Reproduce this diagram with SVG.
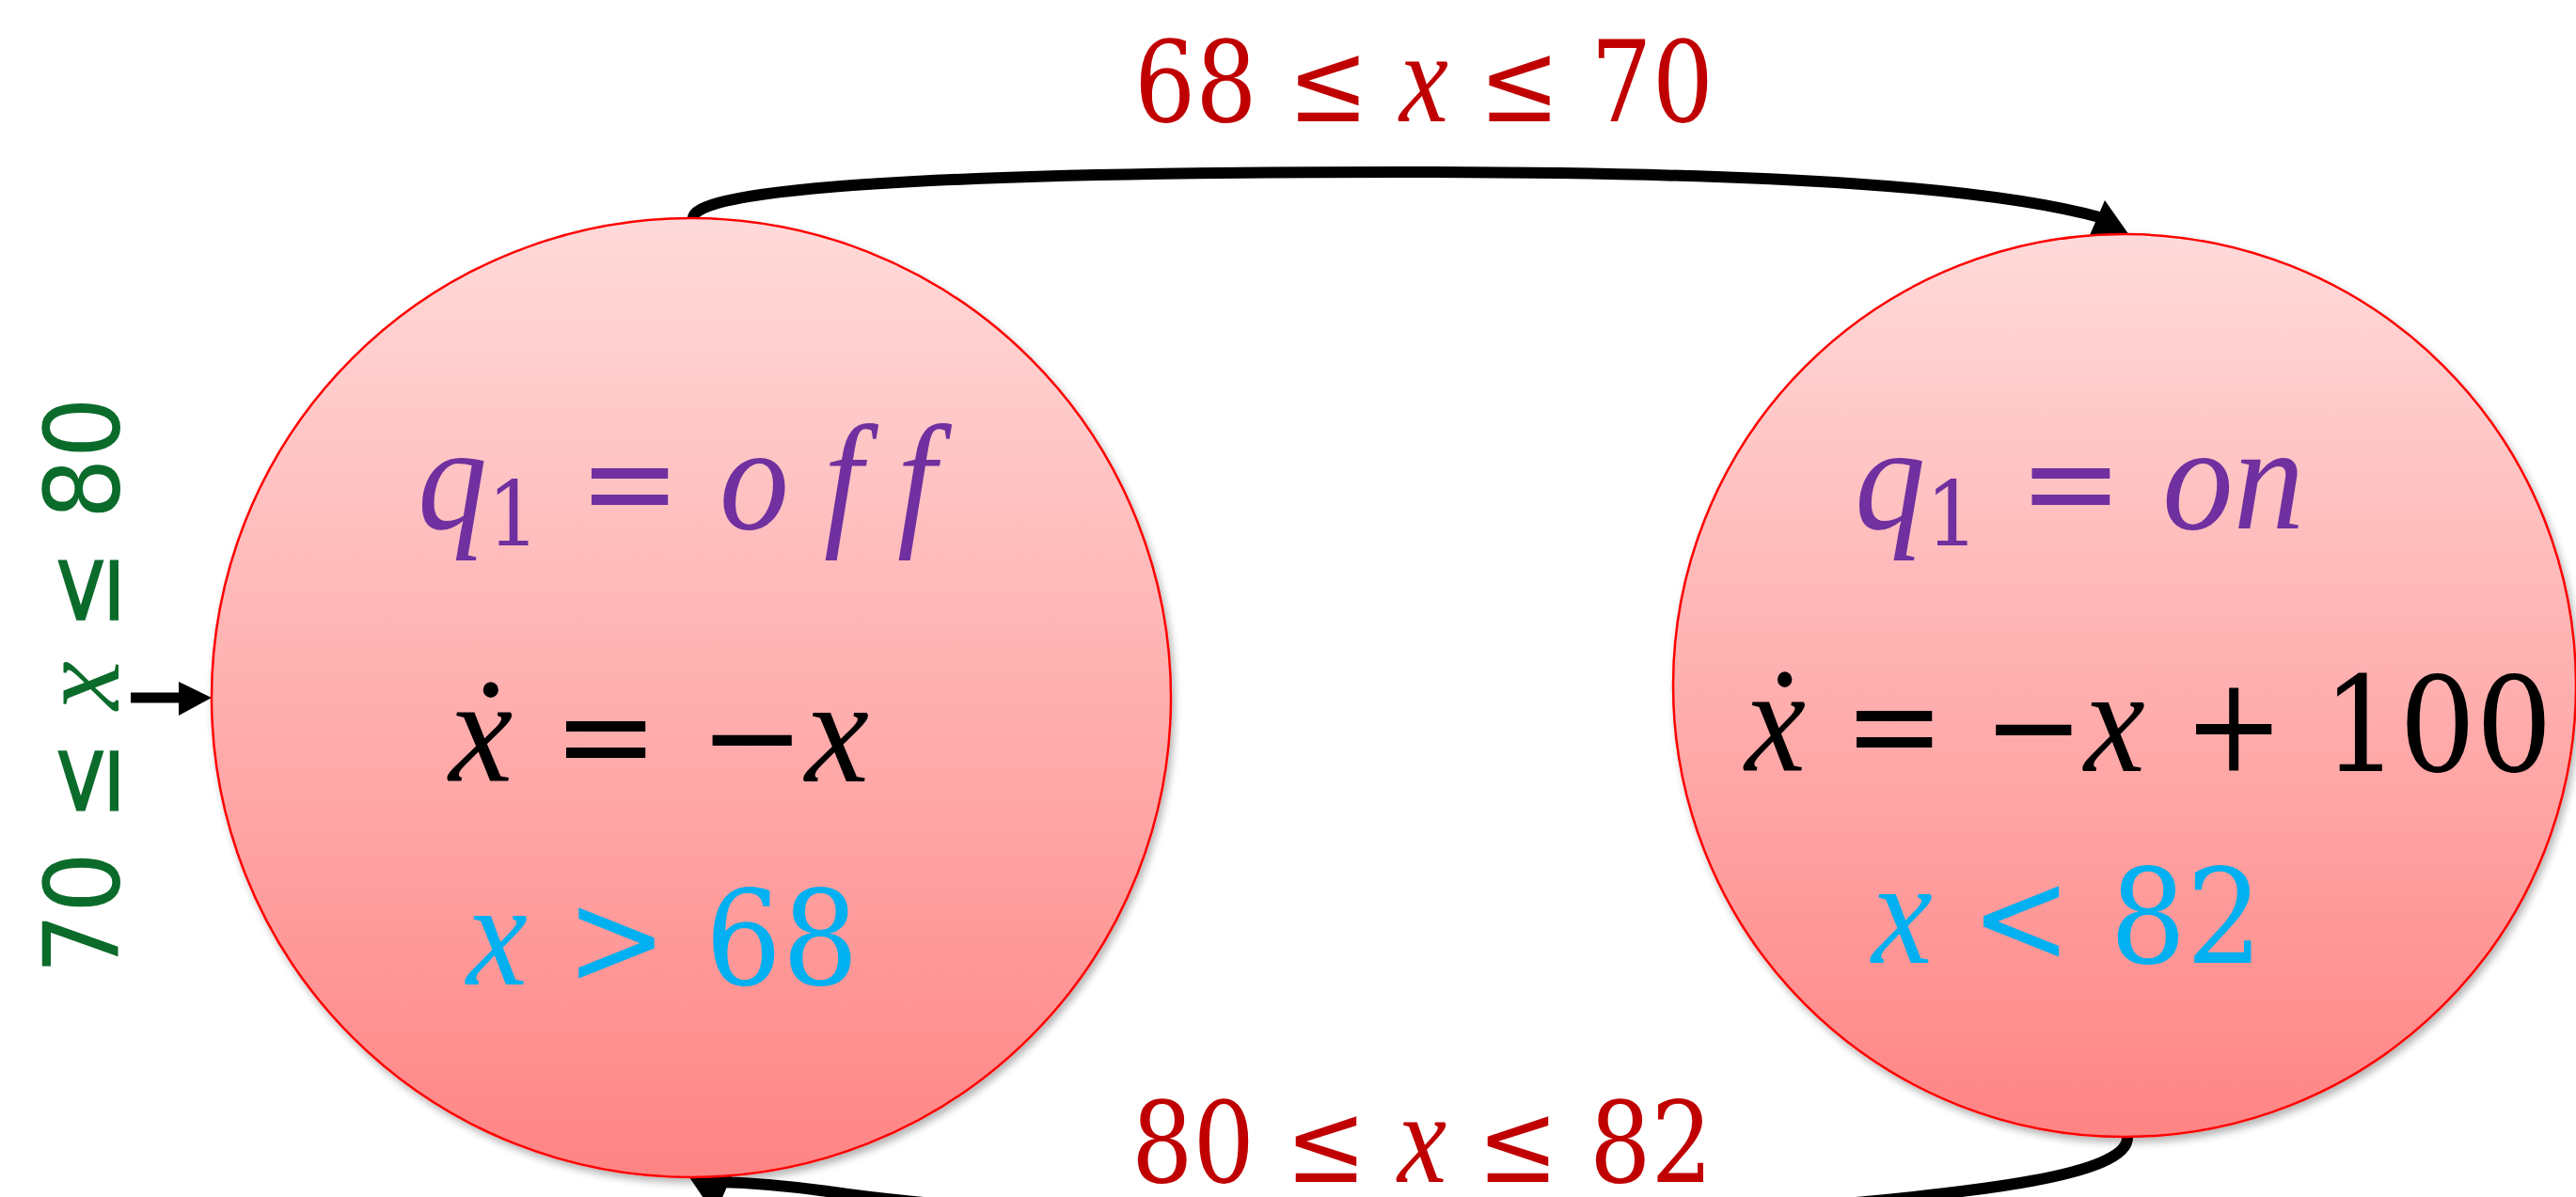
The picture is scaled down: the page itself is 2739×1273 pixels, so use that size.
<svg xmlns="http://www.w3.org/2000/svg" width="2739" height="1273" viewBox="0 0 2739 1273">
<style>
.m{font-family:"DejaVu Serif","Liberation Serif",serif;}
.i{font-family:"Liberation Serif","DejaVu Serif",serif;font-style:italic;font-size:1.14em;}
.st{fill:url(#g);stroke:#FF0000;stroke-width:2.5;filter:url(#sh);}
.conn{fill:none;stroke:#000;stroke-width:12;stroke-linecap:round;}
.red{fill:#C00000;font-size:120px;}
.purple{fill:#7030A0;font-size:140px;}
.blk{fill:#000;font-size:140px;}
.cyan{fill:#00B0F0;font-size:140px;}
</style>
<defs>
<linearGradient id="g" x1="0" y1="0" x2="0" y2="1">
<stop offset="0" stop-color="#FFDADA"/>
<stop offset="1" stop-color="#FF8484"/>
</linearGradient>
<filter id="sh" x="-10%" y="-10%" width="120%" height="120%">
<feGaussianBlur in="SourceAlpha" stdDeviation="4"/>
<feOffset dx="3" dy="5" result="o"/>
<feComponentTransfer><feFuncA type="linear" slope="0.3"/></feComponentTransfer>
<feMerge><feMergeNode/><feMergeNode in="SourceGraphic"/></feMerge>
</filter>
</defs>
<rect width="2739" height="1273" fill="#FFFFFF"/>
<g id="connectors">
<path class="conn" d="M737,232 C737,200 1000,183 1490,183 C1900,183 2120,200 2236,232"/>
<polygon points="2238,213 2222,250 2264,250" fill="#000"/>
<path class="conn" d="M2262,1210 C2262,1250 2100,1268 1940,1282 C1600,1310 1100,1300 880,1267 C830,1260 800,1258 765,1257"/>
<polygon points="733,1252 780,1246 760,1292" fill="#000"/>
<line x1="139" y1="742" x2="192" y2="742" stroke="#000" stroke-width="11"/>
<polygon points="190,725 225,742 190,761" fill="#000"/>
</g>
<g id="node-off">
<circle class="st" cx="735" cy="742" r="510"/>
<text class="m purple" x="444" y="562" textLength="551" lengthAdjust="spacingAndGlyphs"><tspan class="i">q</tspan><tspan font-size="95" dy="18">1</tspan><tspan dy="-18"> = </tspan><tspan class="i">o f f</tspan></text>
<text class="m blk" x="477" y="831" textLength="447" lengthAdjust="spacingAndGlyphs"><tspan class="i">ẋ</tspan> = −<tspan class="i">x</tspan></text>
<text class="m cyan" x="496" y="1047" textLength="417" lengthAdjust="spacingAndGlyphs"><tspan class="i">x</tspan> &gt; 68</text>
</g>
<g id="node-on">
<circle class="st" cx="2259" cy="729" r="480"/>
<text class="m purple" x="1972" y="562" textLength="478" lengthAdjust="spacingAndGlyphs"><tspan class="i">q</tspan><tspan font-size="95" dy="18">1</tspan><tspan dy="-18"> = </tspan><tspan class="i">on</tspan></text>
<text class="m blk" x="1855" y="820" textLength="859" lengthAdjust="spacingAndGlyphs"><tspan class="i">ẋ</tspan> = −<tspan class="i">x</tspan> + 100</text>
<text class="m cyan" x="1990" y="1024" textLength="416" lengthAdjust="spacingAndGlyphs"><tspan class="i">x</tspan> &lt; 82</text>
</g>
<g id="labels">
<text class="m red" x="1206" y="129" textLength="616" lengthAdjust="spacingAndGlyphs">68 ≤ <tspan class="i">x</tspan> ≤ 70</text>
<text class="m red" x="1203" y="1257" textLength="618" lengthAdjust="spacingAndGlyphs">80 ≤ <tspan class="i">x</tspan> ≤ 82</text>
<text transform="translate(126,1036) rotate(-90)" font-family="DejaVu Sans, sans-serif" font-size="111" fill="#0B6B2B" textLength="614" lengthAdjust="spacingAndGlyphs">70 ≤ <tspan class="i">x</tspan> ≤ 80</text>
</g>
</svg>
